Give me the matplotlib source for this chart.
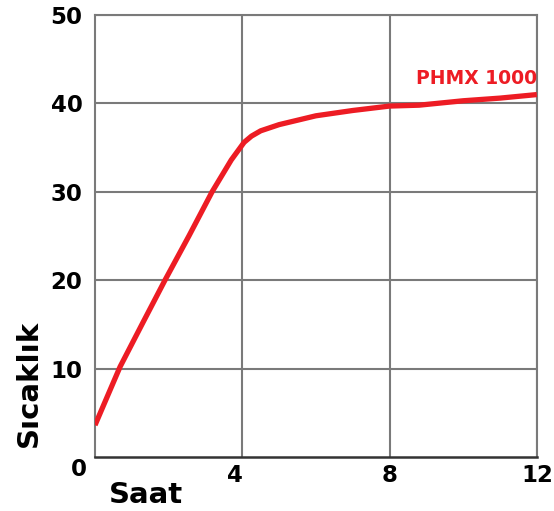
import matplotlib
matplotlib.use("Agg")
import matplotlib.pyplot as plt
from matplotlib.transforms import ScaledTranslation

# data
hours = [0, 0.35, 0.68, 1.3, 1.9, 2.55, 3.18, 3.7, 4.05, 4.25, 4.5, 5.0, 6.0, 7.0, 8.0, 8.8, 10.0, 11.0, 12.0]
temps = [3.6, 7.0, 10.2, 15.2, 20.0, 25.0, 30.0, 33.6, 35.6, 36.3, 36.9, 37.6, 38.6, 39.2, 39.7, 39.8, 40.3, 40.6, 41.0]
series_name = "PHMX 1000"
x_ticks = [4, 8, 12]
y_ticks = [10, 20, 30, 40, 50]

RED = "#ED1C24"
GRID = "#7a7a7a"
plt.rcParams['font.family'] = ['DejaVu Sans']

fig = plt.figure(figsize=(5.54, 5.11), dpi=100)
ax = fig.add_axes([0.1715, 0.1057, 0.7975, 0.8649])

ax.plot(hours, temps, color=RED, lw=3.8, solid_capstyle='butt',
        solid_joinstyle='round', zorder=3)
ax.text(12.0, 41.7, series_name, color=RED, fontsize=13.5, fontweight='bold',
        ha='right', va='bottom')

ax.set_xlim(0, 12)
ax.set_ylim(0, 50)
ax.set_xticks(x_ticks)
ax.set_yticks(y_ticks)
ax.grid(True, color=GRID, lw=1.5)
ax.set_axisbelow(True)
ax.tick_params(length=0, labelsize=16.5)
ax.tick_params(axis='y', pad=9)
ax.tick_params(axis='x', pad=5)
for lab in ax.get_xticklabels() + ax.get_yticklabels():
    lab.set_fontweight('bold')
# the "4" sits a little left of its grid line
ax.get_xticklabels()[0].set_transform(
    ax.get_xticklabels()[0].get_transform() + ScaledTranslation(-5 / 72, 0, fig.dpi_scale_trans))
for side in ['left', 'top', 'right']:
    ax.spines[side].set_color(GRID)
    ax.spines[side].set_linewidth(1.5)
ax.spines['bottom'].set_color('#333333')
ax.spines['bottom'].set_linewidth(1.8)

ax.text(-0.22, -1.4, "0", fontsize=16.5, fontweight='bold', ha='right', va='center',
        transform=ax.transData)
fig.text(0.052, 0.25, "Sıcaklık", rotation=90, fontsize=21, fontweight='bold',
         ha='center', va='center')
fig.text(0.197, 0.032, "Saat", fontsize=21, fontweight='bold', ha='left', va='center')

fig.savefig("out.png", dpi=100)
